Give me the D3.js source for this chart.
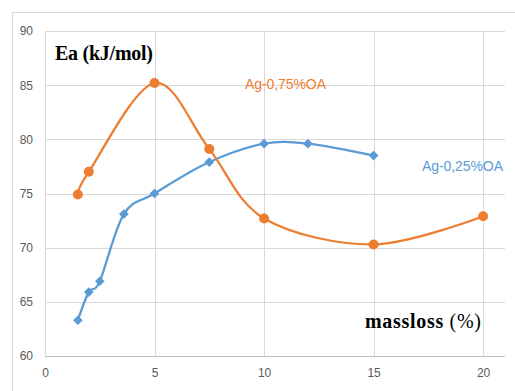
<!DOCTYPE html>
<html><head><meta charset="utf-8">
<script src="https://cdn.jsdelivr.net/npm/d3@7"></script>
<style>body{margin:0;background:#fff}svg{display:block}</style>
</head><body>
<svg id="c" width="515" height="391"></svg>
<script>
const xTicks = [0, 5, 10, 15, 20];
const yTicks = [60, 65, 70, 75, 80, 85, 90];
const orangeX = [1.5, 2, 5, 7.5, 10, 15, 20];
const orangeY = [74.9, 77.0, 85.2, 79.1, 72.7, 70.3, 72.9];
const blueX = [1.5, 2, 2.5, 3.6, 5, 7.5, 10, 12, 15];
const blueY = [63.3, 65.9, 66.9, 73.1, 75.0, 77.9, 79.6, 79.6, 78.5];
const orangeName = "Ag-0,75%OA";
const blueName = "Ag-0,25%OA";

const svg = d3.select("#c");
const L = 45, R = 505, T = 31, B = 356;
const x = d3.scaleLinear().domain([0, 21]).range([L, R]);
const y = d3.scaleLinear().domain([60, 90]).range([B, T]);

// outer chart border
svg.append("rect").attr("x", 12.5).attr("y", 12.5).attr("width", 520).attr("height", 400)
  .attr("fill", "none").attr("stroke", "#d9d9d9").attr("stroke-width", 1);

// gridlines
svg.append("g").selectAll("line").data(yTicks.filter(d => d > 60)).join("line")
  .attr("x1", L).attr("x2", R).attr("y1", d => Math.round(y(d)) + 0.5).attr("y2", d => Math.round(y(d)) + 0.5)
  .attr("stroke", "#d9d9d9").attr("stroke-width", 1);
svg.append("g").selectAll("line").data(xTicks).join("line")
  .attr("y1", T).attr("y2", B).attr("x1", d => Math.round(x(d)) + 0.5).attr("x2", d => Math.round(x(d)) + 0.5)
  .attr("stroke", "#d9d9d9").attr("stroke-width", 1);

// axes via d3
const xAxis = svg.append("g").attr("transform", `translate(0,${B + 0.5})`)
  .call(d3.axisBottom(x).tickValues(xTicks).tickSize(0).tickPadding(12).tickFormat(d3.format("d")));
xAxis.select(".domain").attr("stroke", "#bfbfbf").attr("d", `M${L},0H${R}`);
const yAxis = svg.append("g").attr("transform", `translate(${L},0)`)
  .call(d3.axisLeft(y).tickValues(yTicks).tickSize(0).tickPadding(12).tickFormat(d3.format("d")));
yAxis.select(".domain").remove();
svg.selectAll(".tick text").attr("fill", "#595959").attr("font-family", "Liberation Sans, Arial, sans-serif").attr("font-size", 12);

const curve = d3.curveCardinal.tension(0);
const line = d3.line().x(d => x(d[0])).y(d => y(d[1])).curve(curve);

const od = orangeX.map((v, i) => [v, orangeY[i]]);
const bd = blueX.map((v, i) => [v, blueY[i]]);

svg.append("path").datum(bd).attr("d", line).attr("fill", "none").attr("stroke", "#5B9BD5").attr("stroke-width", 2.25);
svg.append("path").datum(od).attr("d", line).attr("fill", "none").attr("stroke", "#ED7D31").attr("stroke-width", 2.25);

svg.append("g").selectAll("path").data(bd).join("path")
  .attr("d", d3.symbol(d3.symbolDiamond2, 60))
  .attr("transform", d => `translate(${x(d[0])},${y(d[1])})`)
  .attr("fill", "#5B9BD5");
svg.append("g").selectAll("circle").data(od).join("circle")
  .attr("cx", d => x(d[0])).attr("cy", d => y(d[1])).attr("r", 5)
  .attr("fill", "#ED7D31");

// labels
svg.append("text").attr("x", 55).attr("y", 60).text("Ea (kJ/mol)")
  .attr("font-family", "Liberation Serif, Times New Roman, serif").attr("font-weight", "bold").attr("font-size", 20)
  .attr("textLength", 98).attr("fill", "#000");
const ml = svg.append("text").attr("x", 365).attr("y", 328)
  .attr("font-family", "Liberation Serif, Times New Roman, serif").attr("font-size", 20).attr("fill", "#000")
  .attr("textLength", 116);
ml.append("tspan").attr("font-weight", "bold").text("massloss ");
ml.append("tspan").text("(%)");

svg.append("text").attr("x", 245).attr("y", 89).text(orangeName)
  .attr("font-family", "Liberation Sans, Arial, sans-serif").attr("font-size", 14).attr("fill", "#ED7D31").attr("textLength", 81);
svg.append("text").attr("x", 422).attr("y", 171).text(blueName)
  .attr("font-family", "Liberation Sans, Arial, sans-serif").attr("font-size", 14).attr("fill", "#5B9BD5").attr("textLength", 81);
</script>
</body></html>
